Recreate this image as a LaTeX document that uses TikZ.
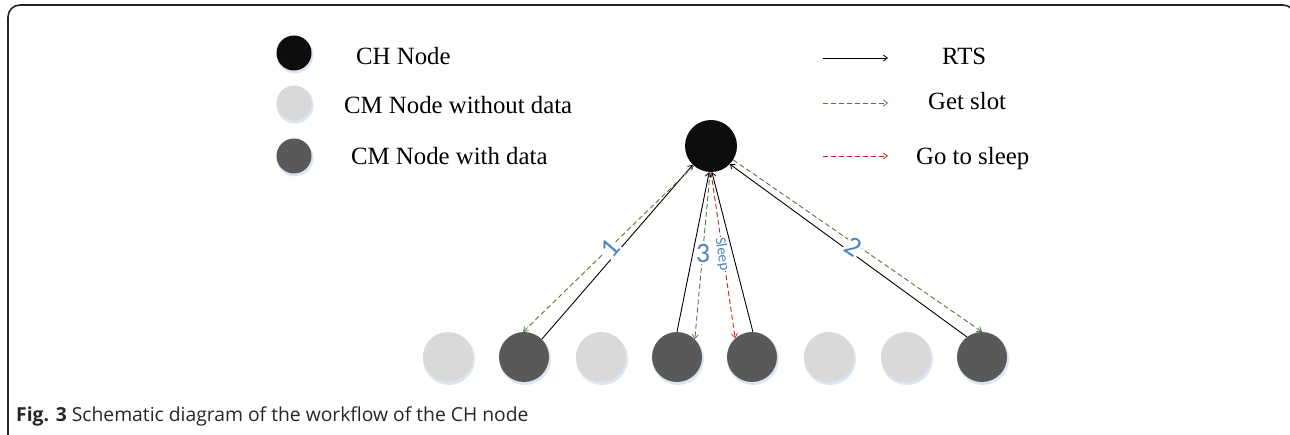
\documentclass[tikz,border=0pt]{standalone}
\usepackage{fontspec}
\setmainfont{Liberation Serif}
\newfontfamily\capfont{Open Sans}
\newfontfamily\lblfont{Carlito}
\usetikzlibrary{arrows.meta}
\definecolor{chblack}{HTML}{0D0D0D}
\definecolor{cmlight}{HTML}{D9D9D9}
\definecolor{cmdark}{HTML}{595959}
\definecolor{gslot}{HTML}{4E7A3A}
\definecolor{gsleep}{HTML}{D02020}
\definecolor{lblblue}{HTML}{4A86C5}
\definecolor{shadowblue}{HTML}{DCE6F2}
\tikzset{
  tip/.style={-{Straight Barb[length=4pt,width=6pt,line width=0.8pt]}},
  rts/.style={tip,draw=black,line width=0.9pt},
  slot/.style={tip,draw=gslot,line width=0.9pt,dash pattern=on 5pt off 3pt},
  sleeparr/.style={tip,draw=gsleep,line width=0.9pt,dash pattern=on 5pt off 3pt},
  chnode/.style={circle,fill=chblack,minimum size=52pt,inner sep=0pt},
  lightnode/.style={circle,fill=cmlight,minimum size=50pt,inner sep=0pt},
  darknode/.style={circle,fill=cmdark,minimum size=50pt,inner sep=0pt},
  legdot/.style={circle,minimum size=35pt,inner sep=0pt},
  legtext/.style={anchor=base west,inner sep=0pt,font=\fontsize{24.8}{28}\selectfont},
  numlbl/.style={text=lblblue,font=\lblfont\fontsize{28}{30}\selectfont,fill=white,inner sep=1pt},
}
\begin{document}
\begin{tikzpicture}[x=1pt,y=-1pt]
\useasboundingbox (0,0) rectangle (1290,435);
\begin{scope}
\clip (0,0) rectangle (1290,435);
\draw[line width=1.6pt,draw=black!85,rounded corners=12pt] (8,450) -- (8,5) -- (1295,5) -- (1295,450);
\end{scope}

% legend
\foreach \yy in {53,103,156}{
  \fill[shadowblue] (295,\yy+2) circle (18.5);
}
\node[legdot,fill=chblack] (l1) at (294,53) {};
\node[legdot,fill=cmlight] (l2) at (294,103) {};
\node[legdot,fill=cmdark] (l3) at (294,156) {};
\node[legtext] (t1) at (356,65) {CH Node};
\node[legtext] (t2) at (344,114) {CM Node without data};
\node[legtext] (t3) at (351,165) {CM Node with data};

\coordinate (a1s) at (823,58); \coordinate (a1e) at (888,58);
\coordinate (a2s) at (823,103); \coordinate (a2e) at (888,103);
\coordinate (a3s) at (823,156); \coordinate (a3e) at (888,156);
\draw[rts] (a1s) -- (a1e);
\draw[slot] (a2s) -- (a2e);
\draw[sleeparr] (a3s) -- (a3e);
\node[legtext] (r1) at (942,65) {RTS};
\node[legtext] (r2) at (928,110) {Get slot};
\node[legtext] (r3) at (916,165) {Go to sleep};

% shadows
\foreach \xx in {448,524,601,677,752,829,906,982}{
  \fill[shadowblue] (\xx+1,359) circle (26);
}
% nodes
\node[chnode] (ch) at (711,146) {};
\node[lightnode] (n1) at (448,357) {};
\node[darknode]  (n2) at (524,357) {};
\node[lightnode] (n3) at (601,357) {};
\node[darknode]  (n4) at (677,357) {};
\node[darknode]  (n5) at (752,357) {};
\node[lightnode] (n6) at (829,357) {};
\node[lightnode] (n7) at (906,357) {};
\node[darknode]  (n8) at (982,357) {};

% connectors
\draw[rts] (n2.45) -- (ch.226);
\draw[slot] (ch.229) -- (n2.92);
\draw[rts] (n4.90) -- (ch.266);
\draw[slot] (ch.268) -- (n4.45);
\draw[rts] (n5.88) -- (ch.272);
\draw[sleeparr] (ch.270) -- (n5.132);
\draw[rts] (n8.127) -- (ch.316);
\draw[slot] (ch.328) -- (n8.90);

% labels
\node[numlbl,rotate=49] (lab1) at (610,248) {1};
\node[numlbl,rotate=-33] (lab2) at (853,247) {2};
\node[numlbl] (lab3) at (703,254) {3};
\node[text=lblblue,font=\lblfont\fontsize{15}{17}\selectfont,rotate=-82,fill=white,inner sep=0.5pt] (lab4) at (722,254) {Sleep};

% caption
\node[anchor=base west,inner sep=0pt,font=\capfont\fontsize{19.3}{22}\selectfont,text=black!85] (cap) at (16,421) {\textbf{Fig. 3} Schematic diagram of the workflow of the CH node};
\end{tikzpicture}
\end{document}
